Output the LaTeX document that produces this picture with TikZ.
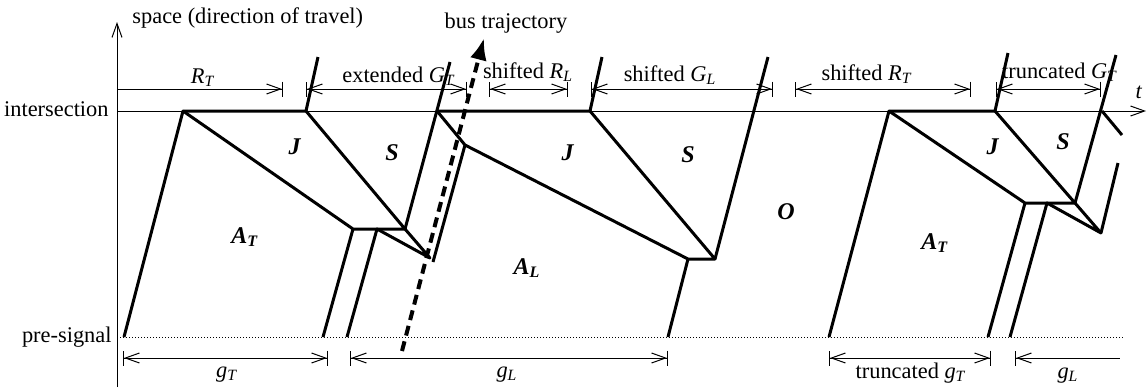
\documentclass[tikz,border=0pt]{standalone}
\usepackage{fontspec}
\setmainfont{Liberation Serif}
\usetikzlibrary{arrows.meta}
\newcommand{\sig}[2]{\textit{#1}\textsubscript{\textit{#2}}}
\newcommand{\reg}[2]{\textbf{\textit{#1}}\textsubscript{\textbf{\textit{#2}}}}

\begin{document}
\begin{tikzpicture}[x=0.5pt,y=-0.5pt,font=\fontsize{11.2}{13}\selectfont,
  thinline/.style={line width=0.5pt},
  traj/.style={line width=1.5pt,line join=round},
  bus/.style={line width=2pt,dash pattern=on 5pt off 3pt,-{Latex[length=11pt,width=8.5pt]}},
  dimline/.style={line width=0.5pt,{Bar[width=7.5pt]Straight Barb[length=7pt,width=5pt]}-{Straight Barb[length=7pt,width=5pt]Bar[width=7.5pt]}},
  dimright/.style={line width=0.5pt,-{Straight Barb[length=7pt,width=5pt]Bar[width=7.5pt]}},
  dimleft/.style={line width=0.5pt,{Bar[width=7.5pt]Straight Barb[length=7pt,width=5pt]}-},
  axislabel/.style={inner sep=0pt},
  zone/.style={inner sep=0pt,font=\fontsize{12}{14}\selectfont}]
\useasboundingbox (0,0) rectangle (1147,387);

% axes
\coordinate (yb) at (117,387);
\coordinate (yt) at (117,22);
\coordinate (xl) at (117,111);
\coordinate (xr) at (1146,111);
\coordinate (pl) at (117,337);
\coordinate (pr) at (1123,337);
\draw[thinline,-{Straight Barb[length=7pt,width=5pt]}] (yb) -- (yt);
\draw[thinline,-{Straight Barb[length=7pt,width=5pt]}] (xl) -- (xr);
\draw[thinline,densely dotted] (pl) -- (pr);
\node[axislabel,anchor=base west] (space) at (132,23) {space (direction of travel)};
\node[axislabel,anchor=base east] (inter) at (109,116) {intersection};
\node[axislabel,anchor=base east] (pre) at (112,342) {pre-signal};
\node[axislabel,anchor=base] (tlab) at (1139,98) {\textit{t}};

% first cycle
\coordinate (a1) at (124,337);
\coordinate (b1) at (183,111);
\coordinate (c1) at (306,111);
\coordinate (c1u) at (318,57);
\coordinate (d1) at (353,229);
\coordinate (f1) at (377,229);
\coordinate (e1) at (405,229);
\coordinate (p1) at (323,337);
\coordinate (q1) at (347,337);
\coordinate (h1) at (430,258);
\coordinate (i1) at (450,62);
\coordinate (k1) at (437,111);
\coordinate (m1) at (465,145);
\coordinate (n1) at (433,262);
\draw[traj] (a1) -- (b1) -- (c1) -- (c1u);
\draw[traj] (b1) -- (d1) -- (e1) -- (c1);
\draw[traj] (p1) -- (d1);
\draw[traj] (q1) -- (f1) -- (h1) -- (e1) -- (i1);
\draw[traj] (n1) -- (m1) -- (k1);

% second cycle
\coordinate (c2) at (590,111);
\coordinate (c2u) at (602,57);
\coordinate (d2) at (688,259);
\coordinate (e2) at (715,259);
\coordinate (i2) at (768,57);
\coordinate (p2) at (668,337);
\draw[traj] (k1) -- (c2) -- (c2u);
\draw[traj] (m1) -- (d2) -- (e2) -- (c2);
\draw[traj] (p2) -- (d2);
\draw[traj] (e2) -- (i2);

% third cycle
\coordinate (a3) at (829,337);
\coordinate (b3) at (889,111);
\coordinate (c3) at (995,111);
\coordinate (c3u) at (1008,53);
\coordinate (d3) at (1025,203);
\coordinate (f3) at (1047,203);
\coordinate (e3) at (1075,203);
\coordinate (p3) at (988,337);
\coordinate (q3) at (1010,337);
\coordinate (h3) at (1101,233);
\coordinate (i3) at (1116,55);
\coordinate (k3) at (1102,111);
\coordinate (r3) at (1122,135);
\coordinate (s3) at (1118,163);
\draw[traj] (a3) -- (b3) -- (c3) -- (c3u);
\draw[traj] (b3) -- (d3) -- (e3) -- (c3);
\draw[traj] (p3) -- (d3);
\draw[traj] (q3) -- (f3) -- (h3) -- (e3) -- (i3);
\draw[traj] (k3) -- (r3);
\draw[traj] (h3) -- (s3);

% bus
\coordinate (bus0) at (402,351);
\coordinate (bus1) at (484,38);
\draw[bus] (bus0) -- (bus1);
\node[axislabel,anchor=base] (buslab) at (506,28) {bus trajectory};

% zones
\node[zone] (j1) at (295,147) {\textbf{\textit{J}}};
\node[zone] (s1) at (392,153) {\textbf{\textit{S}}};
\node[zone] (at1) at (245,237) {\reg{A}{T}};
\node[zone] (j2) at (568,153) {\textbf{\textit{J}}};
\node[zone] (s2) at (688,155) {\textbf{\textit{S}}};
\node[zone] (al) at (527,268) {\reg{A}{L}};
\node[zone] (o) at (786,212) {\textbf{\textit{O}}};
\node[zone] (at2) at (935,243) {\reg{A}{T}};
\node[zone] (j3) at (993,147) {\textbf{\textit{J}}};
\node[zone] (s3lab) at (1063,142) {\textbf{\textit{S}}};

% signal phases
\coordinate (rt0) at (117,89);   \coordinate (rt1) at (283,89);
\coordinate (eg0) at (306,89);   \coordinate (eg1) at (467,89);
\coordinate (sr0) at (489,89);   \coordinate (sr1) at (568,89);
\coordinate (sg0) at (591,89);   \coordinate (sg1) at (773,89);
\coordinate (st0) at (795,89);   \coordinate (st1) at (971,89);
\coordinate (tg0) at (996,89);   \coordinate (tg1) at (1101,89);
\draw[dimright] (rt0) -- (rt1);
\draw[dimline] (eg0) -- (eg1);
\draw[dimline] (sr0) -- (sr1);
\draw[dimline] (sg0) -- (sg1);
\draw[dimline] (st0) -- (st1);
\draw[dimline] (tg0) -- (tg1);
\node[axislabel,anchor=base] (rtlab) at (203,83) {\sig{R}{T}};
\node[axislabel,anchor=base] (eglab) at (399,82) {extended \sig{G}{T}};
\node[axislabel,anchor=base] (srlab) at (528,78) {shifted \sig{R}{L}};
\node[axislabel,anchor=base] (sglab) at (670,81) {shifted \sig{G}{L}};
\node[axislabel,anchor=base] (stlab) at (867,80) {shifted \sig{R}{T}};
\node[axislabel,anchor=base] (tglab) at (1060,78) {truncated \sig{G}{T}};

% green times at pre-signal
\coordinate (gt0) at (123,358);  \coordinate (gt1) at (328,358);
\coordinate (gl0) at (350,358);  \coordinate (gl1) at (668,358);
\coordinate (tt0) at (829,358);  \coordinate (tt1) at (991,358);
\coordinate (gr0) at (1015,358); \coordinate (gr1) at (1120,358);
\draw[dimline] (gt0) -- (gt1);
\draw[dimline] (gl0) -- (gl1);
\draw[dimline] (tt0) -- (tt1);
\draw[dimleft] (gr0) -- (gr1);
\node[axislabel,anchor=base] (gtlab) at (227,377) {\sig{g}{T}};
\node[axislabel,anchor=base] (gllab) at (507,377) {\sig{g}{L}};
\node[axislabel,anchor=base] (ttlab) at (911,378) {truncated \sig{g}{T}};
\node[axislabel,anchor=base] (grlab) at (1068,378) {\sig{g}{L}};
\end{tikzpicture}
\end{document}
